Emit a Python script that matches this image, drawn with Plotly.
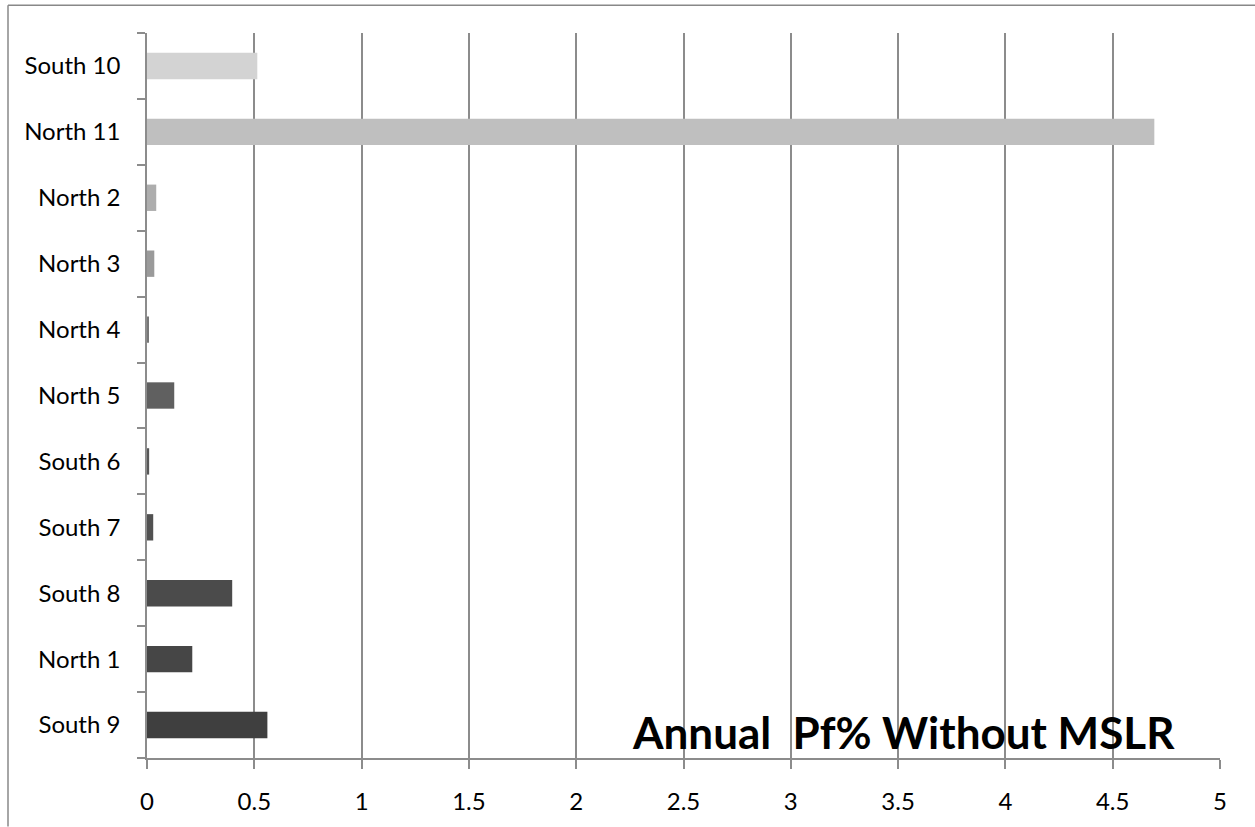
import plotly.graph_objects as go

# Sections, listed bottom to top as they appear on the category axis
sections = ["South 9", "North 1", "South 8", "South 7", "South 6", "North 5",
            "North 4", "North 3", "North 2", "North 11", "South 10"]
pf_values = [0.561, 0.211, 0.397, 0.029, 0.010, 0.127,
             0.007, 0.034, 0.043, 4.694, 0.514]
bar_colors = ["#3f3f3f", "#464646", "#4b4b4b", "#515151", "#575757", "#606060",
              "#777777", "#9a9a9a", "#adadad", "#bfbfbf", "#d3d3d3"]
x_ticks = [0, 0.5, 1, 1.5, 2, 2.5, 3, 3.5, 4, 4.5, 5]
x_tick_text = ["0", "0.5", "1", "1.5", "2", "2.5", "3", "3.5", "4", "4.5", "5"]

W, H = 1255, 827
ML, MR, MT, MB = 147, 35, 33, 64
pw = W - ML - MR
ph = H - MT - MB

def px_x(p):
    return (p - ML) / pw

def px_y(p):
    return (H - MB - p) / ph

axis_grey = "#8c8c8c"

fig = go.Figure(go.Bar(
    x=pf_values,
    y=sections,
    orientation="h",
    marker=dict(color=bar_colors, line=dict(width=0)),
    hoverinfo="x+y",
))

fig.update_layout(
    width=W, height=H,
    margin=dict(l=ML, r=MR, t=MT, b=MB, pad=0),
    paper_bgcolor="white",
    plot_bgcolor="white",
    bargap=0.6,
    showlegend=False,
    font=dict(family="Lato", size=24, color="black"),
    xaxis=dict(
        range=[0, 5],
        tickvals=x_ticks,
        ticktext=x_tick_text,
        showgrid=True, gridcolor=axis_grey, gridwidth=1.5,
        showline=True, linecolor=axis_grey, linewidth=1.5,
        ticks="outside", ticklen=9, tickcolor=axis_grey, tickwidth=1.5,
        ticklabelstandoff=12,
        zeroline=False,
        fixedrange=True,
    ),
    yaxis=dict(
        type="category",
        categoryorder="array",
        categoryarray=sections,
        showgrid=False,
        showline=True, linecolor=axis_grey, linewidth=1.5,
        ticks="outside", tickson="boundaries", ticklen=8,
        tickcolor=axis_grey, tickwidth=1.5,
        ticklabelstandoff=20,
        fixedrange=True,
    ),
    shapes=[
        # chart frame (left and top edges)
        dict(type="line", xref="paper", yref="paper",
             x0=px_x(8), x1=px_x(8), y0=px_y(5), y1=px_y(H + 5),
             line=dict(color="#888888", width=1.5)),
        dict(type="line", xref="paper", yref="paper",
             x0=px_x(8), x1=px_x(W + 5), y0=px_y(5), y1=px_y(5),
             line=dict(color="#888888", width=1.5)),
    ],
    annotations=[
        dict(text="<b>Annual  Pf% Without MSLR</b>",
             xref="paper", yref="paper",
             x=px_x(903), y=px_y(737),
             xanchor="center", yanchor="middle",
             showarrow=False,
             font=dict(family="Lato", size=44, color="black")),
    ],
)

fig.write_html("out.html")
